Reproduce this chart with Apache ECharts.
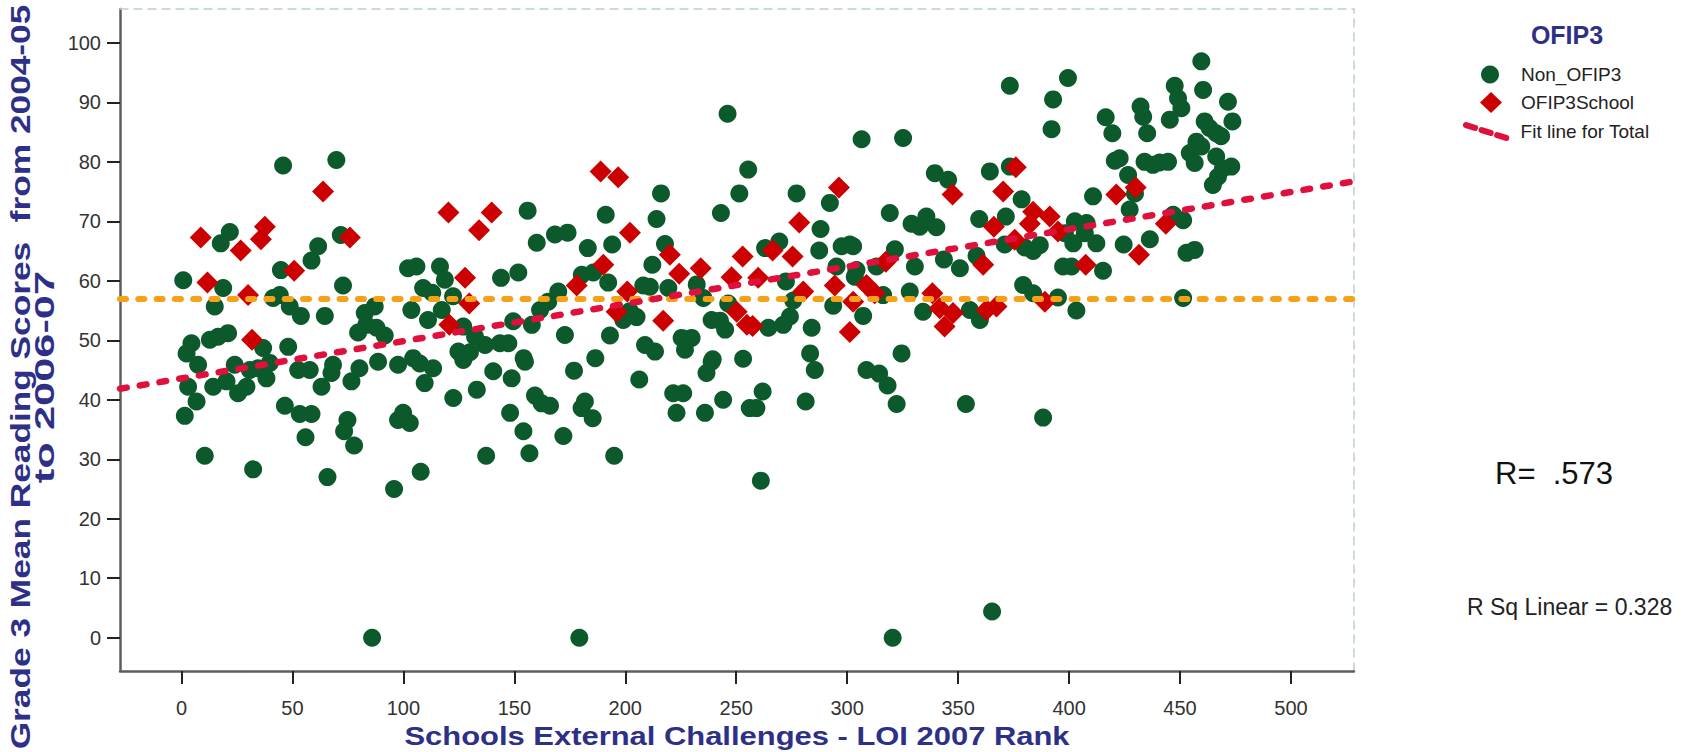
<!DOCTYPE html>
<html>
<head>
<meta charset="utf-8">
<script src="https://cdn.jsdelivr.net/npm/echarts@6/dist/echarts.min.js"></script>
<style>
html,body{margin:0;padding:0;background:#ffffff;}
#chart{width:1681px;height:752px;}
</style>
</head>
<body>
<div id="chart"></div>
<script>
// ---------- data ----------
const xTickValues = [0, 50, 100, 150, 200, 250, 300, 350, 400, 450, 500];
const yTickValues = [0, 10, 20, 30, 40, 50, 60, 70, 80, 90, 100];
const xRange = [-27.7, 528.4];
const yRange = [-5.6, 105.7];

const nonOfip3 = [
[45.8,79.4],[69.8,80.3],[21.8,68.2],[17.7,66.3],[61.6,65.8],[58.6,63.4],[71.8,67.7],[44.8,61.8],[0.8,60.1],[18.8,58.8],
[72.8,59.2],[15.0,55.7],[41.3,57.1],[44.3,57.6],[48.8,55.7],[53.8,54.1],[64.6,54.1],[102.1,62.1],[105.9,62.4],[116.5,62.4],
[108.9,58.8],[113.0,58.0],[103.6,55.1],[111.1,53.4],[82.6,54.6],[87.1,55.7],[83.3,52.6],[87.9,52.1],[79.6,51.3],[91.6,50.8],
[4.5,49.5],[12.8,50.1],[16.5,50.6],[21.0,51.2],[36.8,48.7],[48.1,48.9],[2.3,47.8],
[30.8,45.0],[34.5,45.3],[39.8,46.2],
[7.5,45.9],[24.0,45.9],[38.3,43.6],[3.0,42.2],[14.3,42.2],[20.3,43.1],[25.5,41.1],[29.3,42.2],[52.6,45.0],[57.8,45.0],
[63.1,42.2],[67.6,44.5],[68.3,45.9],[76.6,43.1],[80.2,45.3],[88.6,46.4],[97.6,45.9],[104.4,47.0],[107.4,46.1],[113.4,45.3],
[109.6,42.8],[6.8,39.7],[1.5,37.3],[46.6,39.0],[53.3,37.6],[58.6,37.6],[55.9,33.7],[74.8,36.6],[73.3,34.7],[77.8,32.3],
[97.6,36.6],[99.9,37.8],[102.9,36.1],[10.5,30.6],[32.3,28.3],[65.8,27.0],[107.8,27.9],[95.8,25.0],[85.9,0],
[246.1,88.1],[255.4,78.7],[251.4,74.7],[243.1,71.4],[216.1,74.7],[214.1,70.4],[156.0,71.8],[160.1,66.4],[168.3,67.8],[174.0,68.1],
[191.2,71.1],[183.1,65.5],[194.1,66.1],[217.9,66.2],[212.2,62.7],[144.0,60.5],[151.8,61.4],[117.3,55.1],[127.0,52.3],[132.3,50.6],
[136.8,49.2],[143.5,49.5],[147.3,49.5],[124.8,48.1],[130.0,48.0],[149.5,53.2],[157.9,52.6],[161.6,55.1],[169.8,58.2],[165.3,56.5],
[172.8,50.9],[180.4,61.0],[185.6,61.4],[192.3,59.7],[208.1,59.2],[211.1,59.0],[219.4,58.8],[202.1,54.9],[199.1,53.4],[205.1,53.9],
[193.1,50.8],[208.9,49.2],[213.4,48.1],[225.4,50.4],[229.9,50.4],[226.9,48.4],[238.9,53.4],[242.7,53.3],[245.0,51.8],[235.2,57.1],
[246.4,56.2],[232.2,59.4],[239.4,46.8],[253.1,46.9],[186.5,47.0],[154.2,47.0],[118.7,60.2],[122.4,57.4],
[127.0,46.7],[122.5,40.3],[133.1,41.7],[140.5,44.8],[148.8,43.6],[154.8,46.4],[148.1,37.8],[154.1,34.7],[156.8,31.0],[137.3,30.6],
[159.3,40.7],[162.3,39.4],[166.1,39.0],[172.1,33.9],[176.9,44.9],[181.8,39.7],[180.3,38.6],[185.3,36.9],[195.0,30.6],[179.3,0],
[206.3,43.4],[221.6,41.1],[226.1,41.1],[223.1,37.8],[235.9,37.8],[236.6,44.5],[238.9,46.4],[244.1,40.0],[256.1,38.6],
[373.3,92.8],[392.8,90.5],[392.1,85.5],[306.5,83.8],[325.2,84.0],[277.2,74.7],[292.2,73.1],[339.5,78.1],[345.5,77.0],[364.3,78.4],
[373.3,79.2],[378.6,73.7],[319.2,71.4],[288.0,68.7],[287.4,65.1],[269.4,66.6],[263.0,65.5],[297.5,65.8],[301.2,66.1],[302.7,65.8],
[329.0,69.6],[332.7,69.1],[335.7,70.8],[340.2,69.0],[359.5,70.4],[371.5,70.8],[371.0,66.1],[380.1,65.6],[386.8,66.0],[383.8,65.0],
[321.5,65.3],[330.5,62.4],[343.6,63.6],[350.8,62.1],[358.3,64.2],[272.4,59.9],[275.7,56.7],[274.2,54.0],[271.2,52.6],
[264.5,52.1],[284.0,52.1],[283.3,47.8],[293.7,55.8],[295.2,62.4],[304.2,61.8],[303.4,60.7],[307.2,54.1],[313.2,62.4],[316.2,57.6],
[328.2,58.2],[334.2,54.8],[355.3,55.1],[359.8,53.4],[379.3,59.3],[383.8,57.9],[324.5,47.8],
[285.4,45.0],[308.7,45.0],[314.4,44.4],[318.2,42.4],[322.3,39.3],[261.9,41.4],[259.1,38.6],[281.3,39.7],[353.5,39.3],[388.3,37.0],
[261.1,26.4],[365.3,4.4],[320.5,0],
[459.6,96.9],[399.5,94.1],[447.6,92.8],[449.1,90.7],[450.6,89.0],[445.4,87.1],[460.4,92.1],[471.6,90.1],[473.6,86.8],[432.2,89.3],
[433.4,87.6],[435.2,84.8],[416.5,87.5],[419.5,84.8],[461.1,86.8],[463.3,85.7],[466.3,84.8],[468.5,84.3],[457.4,83.4],[454.4,81.5],
[459.6,82.6],[456.6,79.8],[466.3,80.9],[469.3,78.9],[473.1,79.2],[467.1,77.5],[464.8,76.1],[420.6,80.2],[422.8,80.6],[434.0,80.0],
[437.8,79.5],[440.8,79.9],[444.6,80.0],[426.6,77.8],[429.7,74.7],[410.8,74.2],[427.3,72.0],[402.6,70.0],[407.9,69.7],[398.1,68.0],
[401.9,66.3],[412.3,66.3],[407.1,68.0],[446.9,71.1],[451.4,70.2],[424.6,66.1],[436.4,67.0],[452.9,64.7],[456.6,65.2],[397.3,62.4],
[401.1,62.4],[415.3,61.7],[395.0,57.2],[403.3,55.0],[451.4,57.1]
];

const ofip3School = [
[63.8,75.0],[8.7,67.3],[26.7,65.1],[37.6,69.1],[35.8,67.0],[75.9,67.3],[50.8,61.7],[11.7,59.7],[30.0,57.6],[31.8,50.1],
[188.9,78.4],[196.8,77.4],[120.3,71.5],[139.8,71.5],[134.1,68.5],[202.1,68.1],[220.1,64.4],[224.3,61.2],[234.0,62.1],[252.9,64.1],
[247.9,60.6],[127.8,60.5],[129.7,56.2],[120.7,52.6],[178.1,59.2],[190.1,62.7],[200.9,58.2],[196.1,54.8],[217.1,53.3],[250.2,54.8],
[254.8,52.6],
[296.3,75.7],[347.5,74.5],[376.0,79.1],[370.3,75.0],[278.4,69.8],[266.4,65.1],[275.4,64.1],[366.1,69.1],[383.8,71.6],[391.3,70.8],
[382.3,69.6],[375.5,66.9],[317.4,63.2],[361.3,62.7],[259.9,60.5],[280.2,58.2],[257.4,52.4],[294.4,59.2],[308.7,59.3],[312.4,57.9],
[302.7,56.5],[301.2,51.4],[338.4,57.9],[341.7,55.4],[347.7,54.6],[343.9,52.3],[362.8,55.1],[367.3,55.7],[389.1,56.5],
[430.0,75.7],[421.3,74.5],[395.0,68.3],[443.6,69.6],[431.5,64.4],[407.5,62.7]
];

const fitLine = [[-27.7, 41.85], [528.4, 76.72]];
const referenceValue = 57;

// ---------- styling ----------
const SANS = '"Liberation Sans", Arial, Helvetica, sans-serif';
const NAVY = '#2e3087';
const GREEN = '#0c5a2c';
const RED = '#cc0000';
const FIT = '#e0103c';
const ORANGE = '#f7a11a';
const FRAME = '#b9d2c6';

const fitIcon = 'path://M2.58,6.36 L11.58,9.26 A3,3 0 0 0 13.42,3.54 L4.42,0.64 A3,3 0 0 0 2.58,6.36 Z ' +
  'M18.08,11.36 L27.08,14.26 A3,3 0 0 0 28.92,8.54 L19.92,5.64 A3,3 0 0 0 18.08,11.36 Z ' +
  'M33.58,16.36 L42.58,19.26 A3,3 0 0 0 44.42,13.54 L35.42,10.64 A3,3 0 0 0 33.58,16.36 Z';

const chart = echarts.init(document.getElementById('chart'), null, {renderer: 'svg', width: 1681, height: 752});

const hiddenAxis = (pos) => ({
  type: 'value', position: pos, min: null, max: null,
  axisLine: {show: true, onZero: false, lineStyle: {color: FRAME, width: 1.5, type: [8, 6]}},
  axisTick: {show: false}, axisLabel: {show: false}, splitLine: {show: false}
});

const xTop = hiddenAxis('top'); xTop.min = xRange[0]; xTop.max = xRange[1];
const yRight = hiddenAxis('right'); yRight.min = yRange[0]; yRight.max = yRange[1];

const legendText = (pad) => ({fontSize: 19, color: '#222', fontFamily: SANS, padding: [0, 0, 0, pad]});
const centered = {textAlign: 'center', textVerticalAlign: 'middle', align: 'center', verticalAlign: 'middle'};
const leftMid = {textAlign: 'left', textVerticalAlign: 'middle', align: 'left', verticalAlign: 'middle'};

chart.setOption({
  animation: false,
  backgroundColor: '#ffffff',
  grid: {left: 120, top: 9, width: 1234, height: 662, containLabel: false, outerBoundsMode: 'none'},
  xAxis: [{
    type: 'value', position: 'bottom', min: xRange[0], max: xRange[1],
    axisLine: {show: true, onZero: false, lineStyle: {color: '#5e5e5e', width: 2.5}},
    axisTick: {show: true, length: 13, customValues: xTickValues, lineStyle: {color: '#222', width: 2}},
    axisLabel: {customValues: xTickValues, margin: 27, fontSize: 20, fontFamily: SANS, color: '#333'},
    splitLine: {show: false}
  }, xTop],
  yAxis: [{
    type: 'value', position: 'left', min: yRange[0], max: yRange[1],
    axisLine: {show: true, onZero: false, lineStyle: {color: '#5e5e5e', width: 2.5}},
    axisTick: {show: true, length: 13, customValues: yTickValues, lineStyle: {color: '#222', width: 2}},
    axisLabel: {customValues: yTickValues, margin: 19, fontSize: 20, fontFamily: SANS, color: '#333'},
    splitLine: {show: false}
  }, yRight],
  legend: [
    {data: [{name: 'Non_OFIP3', icon: 'circle'}], left: 1481, top: 65, padding: 0,
     itemWidth: 18, itemHeight: 18, selectedMode: false, textStyle: legendText(17)},
    {data: [{name: 'OFIP3School', icon: 'diamond'}], left: 1480, top: 92, padding: 0,
     itemWidth: 22, itemHeight: 21, selectedMode: false, textStyle: legendText(14)},
    {data: [{name: 'Fit line for Total', icon: fitIcon}], left: 1463, top: 122, padding: 0,
     itemWidth: 47, itemHeight: 19, selectedMode: false, textStyle: legendText(6)}
  ],
  series: [
    {type: 'scatter', name: 'Non_OFIP3', data: nonOfip3, symbol: 'circle', symbolSize: 18,
     itemStyle: {color: GREEN, opacity: 1}, z: 2, silent: true},
    {type: 'scatter', name: 'OFIP3School', data: ofip3School, symbol: 'diamond', symbolSize: 22,
     itemStyle: {color: RED, opacity: 1}, z: 3, silent: true},
    {type: 'line', name: 'Fit line for Total', data: fitLine, symbol: 'none', silent: true, z: 6,
     itemStyle: {color: FIT},
     lineStyle: {color: FIT, width: 6.5, type: [6.8, 13.2], cap: 'round'},
     markLine: {silent: true, symbol: 'none', z: 5, label: {show: false},
       lineStyle: {color: ORANGE, width: 6, type: [6, 12.3], cap: 'round'},
       data: [{yAxis: referenceValue}]}}
  ],
  graphic: [
    {type: 'text', x: 20, y: 377, rotation: Math.PI / 2, scaleX: 1.26,
     style: Object.assign({text: 'Grade 3 Mean Reading Scores \u00a0from 2004-05', font: 'bold 28px ' + SANS, fill: NAVY}, centered)},
    {type: 'text', x: 44, y: 377, rotation: Math.PI / 2, scaleX: 1.55,
     style: Object.assign({text: 'to 2006-07', font: 'bold 28px ' + SANS, fill: NAVY}, centered)},
    {type: 'text', x: 737, y: 736, scaleX: 1.19,
     style: Object.assign({text: 'Schools External Challenges - LOI 2007 Rank', font: 'bold 26px ' + SANS, fill: NAVY}, centered)},
    {type: 'text', x: 1567, y: 35,
     style: Object.assign({text: 'OFIP3', font: 'bold 25px ' + SANS, fill: NAVY}, centered)},
    {type: 'text', x: 1495, y: 473,
     style: Object.assign({text: 'R=\u00a0 .573', font: '31px ' + SANS, fill: '#111'}, leftMid)},
    {type: 'text', x: 1467, y: 607,
     style: Object.assign({text: 'R Sq Linear = 0.328', font: '23px ' + SANS, fill: '#222'}, leftMid)}
  ]
});
</script>
</body>
</html>
